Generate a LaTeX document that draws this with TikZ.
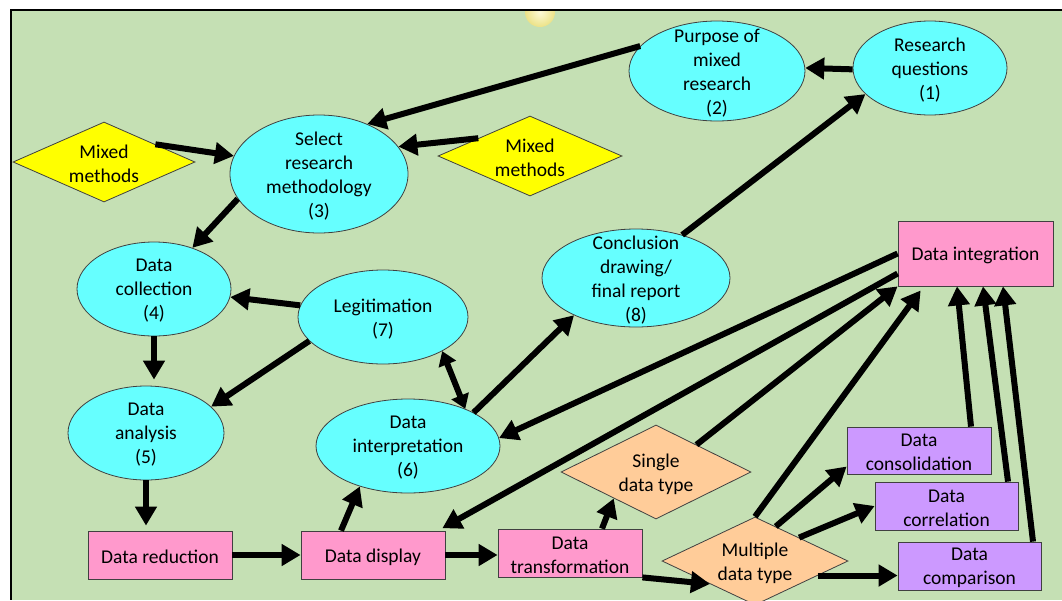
\documentclass[tikz,border=0pt]{standalone}
\usepackage{fontspec}
\setmainfont{Carlito}
\usetikzlibrary{shapes.geometric,arrows.meta}
\definecolor{bggreen}{RGB}{197,224,180}
\definecolor{cyanfill}{RGB}{102,255,255}
\definecolor{pinkfill}{RGB}{255,153,204}
\definecolor{orangefill}{RGB}{255,204,153}
\definecolor{purplefill}{RGB}{204,153,255}
\definecolor{yellowfill}{RGB}{255,255,0}
\definecolor{edgegray}{RGB}{64,64,64}
\definecolor{glowin}{RGB}{252,250,215}
\definecolor{glowout}{RGB}{236,226,135}
\newcommand\nodefont{\fontsize{19.5}{24}\selectfont}
\tikzset{
  ellnode/.style={ellipse, draw=edgegray, line width=0.8pt, fill=cyanfill, inner sep=0pt},
  dianode/.style={diamond, draw=edgegray, line width=0.8pt, inner sep=0pt},
  boxnode/.style={rectangle, draw=edgegray, line width=0.8pt, inner sep=0pt},
  txtnode/.style={align=center, inner sep=0pt, font=\nodefont, yshift=-2pt},
  bigarrow/.style={line width=6pt, -{Triangle[length=19pt,width=21pt]}},
  dblarrow/.style={line width=6pt, {Triangle[length=14pt,width=18pt]}-{Triangle[length=14pt,width=18pt]}},
}
\begin{document}
\begin{tikzpicture}[x=1pt,y=-1pt]
\useasboundingbox (0,0) rectangle (1062,600);
\fill[white] (0,0) rectangle (1062,600);
\fill[bggreen] (11,10) rectangle (1062,600);
\begin{scope}
  \clip (11,10) rectangle (1062,600);
  \shade[inner color=glowin, outer color=glowout] (540,12) circle[radius=15pt];
\end{scope}
\draw[black, line width=2pt] (1062,10) -- (11,10) -- (11,600);

% ellipses
\node[ellnode, minimum width=154pt, minimum height=94pt] (rq) at (930,68) {};
\node[txtnode] at (rq) {Research\\questions\\(1)};
\node[ellnode, minimum width=176pt, minimum height=100pt] (purp) at (717,71) {};
\node[txtnode] at (purp) {Purpose of\\mixed\\research\\(2)};
\node[ellnode, minimum width=178pt, minimum height=118pt] (sel) at (319,174) {};
\node[txtnode] at (sel) {Select\\research\\methodology\\(3)};
\node[ellnode, minimum width=154pt, minimum height=94pt] (coll) at (154,289) {};
\node[txtnode] at (coll) {Data\\collection\\(4)};
\node[ellnode, minimum width=156pt, minimum height=94pt] (anal) at (146,433) {};
\node[txtnode] at (anal) {Data\\analysis\\(5)};
\node[ellnode, minimum width=184pt, minimum height=94pt] (interp) at (408,446) {};
\node[txtnode] at (interp) {Data\\interpretation\\(6)};
\node[ellnode, minimum width=170pt, minimum height=94pt] (legit) at (383,317) {};
\node[txtnode] at (legit) {Legitimation\\(7)};
\node[ellnode, minimum width=188pt, minimum height=98pt] (concl) at (636,278) {};
\node[txtnode] at (concl) {Conclusion\\drawing/\\final report\\(8)};

% diamonds
\node[dianode, fill=yellowfill, minimum width=182pt, minimum height=80pt] (mmL) at (104,162) {};
\node[txtnode] at (mmL) {Mixed\\methods};
\node[dianode, fill=yellowfill, minimum width=184pt, minimum height=80pt] (mmR) at (530,156) {};
\node[txtnode] at (mmR) {Mixed\\methods};
\node[dianode, fill=orangefill, minimum width=190pt, minimum height=94pt] (single) at (656,472) {};
\node[txtnode] at (single) {Single\\data type};
\node[dianode, fill=orangefill, minimum width=186pt, minimum height=88pt] (multi) at (755,561) {};
\node[txtnode] at (multi) {Multiple\\data type};

% boxes
\node[boxnode, fill=pinkfill, minimum width=155pt, minimum height=65pt] (integ) at (975.5,253.5) {};
\node[txtnode] at (integ) {Data integration};
\node[boxnode, fill=pinkfill, minimum width=144pt, minimum height=48pt] (red) at (160,555) {};
\node[txtnode] at (red) {Data reduction};
\node[boxnode, fill=pinkfill, minimum width=144pt, minimum height=48pt] (disp) at (373,555) {};
\node[txtnode] at (disp) {Data display};
\node[boxnode, fill=pinkfill, minimum width=144pt, minimum height=48pt] (trans) at (570,553) {};
\node[txtnode] at (trans) {Data\\transformation};
\node[boxnode, fill=purplefill, minimum width=144pt, minimum height=47pt] (cons) at (919,450.5) {};
\node[txtnode] at (cons) {Data\\consolidation};
\node[boxnode, fill=purplefill, minimum width=143pt, minimum height=48pt] (corr) at (946.5,506) {};
\node[txtnode] at (corr) {Data\\correlation};
\node[boxnode, fill=purplefill, minimum width=143pt, minimum height=48pt] (comp) at (969.5,566) {};
\node[txtnode] at (comp) {Data\\comparison};

% connectors
\draw[bigarrow] (purp.162) -- (sel.46);
\draw[bigarrow] (rq.181) -- (purp.2);
\draw[bigarrow] (mmL.19) -- (sel.168);
\draw[bigarrow] (mmR.161) -- (sel.19);
\draw[bigarrow] (sel.197) -- (coll.47);
\draw[bigarrow] (legit.172) -- (coll.354);
\draw[bigarrow, shorten >=6pt] (coll.south) -- (coll.south |- anal.north);
\draw[bigarrow] (legit.198) -- (anal.22);
\draw[bigarrow, shorten >=5pt] (anal.south) -- (anal.south |- red.north);
\draw[bigarrow] (red.east) -- (disp.west);
\draw[bigarrow] ([xshift=-32pt]disp.north) -- (interp.220);
\draw[dblarrow] (legit.330) -- (interp.33);
\draw[bigarrow] (interp.27) -- (concl.211);
\draw[bigarrow] (concl.43) -- (rq.202);
\draw[bigarrow] (integ.west) -- (interp.5);
\draw[bigarrow, shorten >=5pt] ([yshift=-20pt]integ.west) -- ([xshift=65pt]disp.north);
\draw[bigarrow] (single.34) -- (integ.south west);
\draw[bigarrow, shorten >=5pt] (multi.north) -- ([xshift=26pt]integ.south west);
\draw[bigarrow] (multi.59) -- ([yshift=-16pt]cons.west);
\draw[bigarrow] (multi.28) -- (corr.west);
\draw[bigarrow] (multi.-13) -- (multi.-13 -| comp.west);
\draw[bigarrow] (disp.east) -- (disp.east -| trans.west);
\draw[bigarrow] (trans.south east) -- (multi.207);
\draw[bigarrow] ([xshift=32pt]trans.north) -- (single.212);
\draw[bigarrow] ([xshift=52pt]cons.north) -- ([xshift=-18.5pt]integ.south);
\draw[bigarrow] ([xshift=61.5pt]corr.north) -- ([xshift=7.5pt]integ.south);
\draw[bigarrow] ([xshift=63.5pt]comp.north) -- ([xshift=27.5pt]integ.south);
\end{tikzpicture}
\end{document}
